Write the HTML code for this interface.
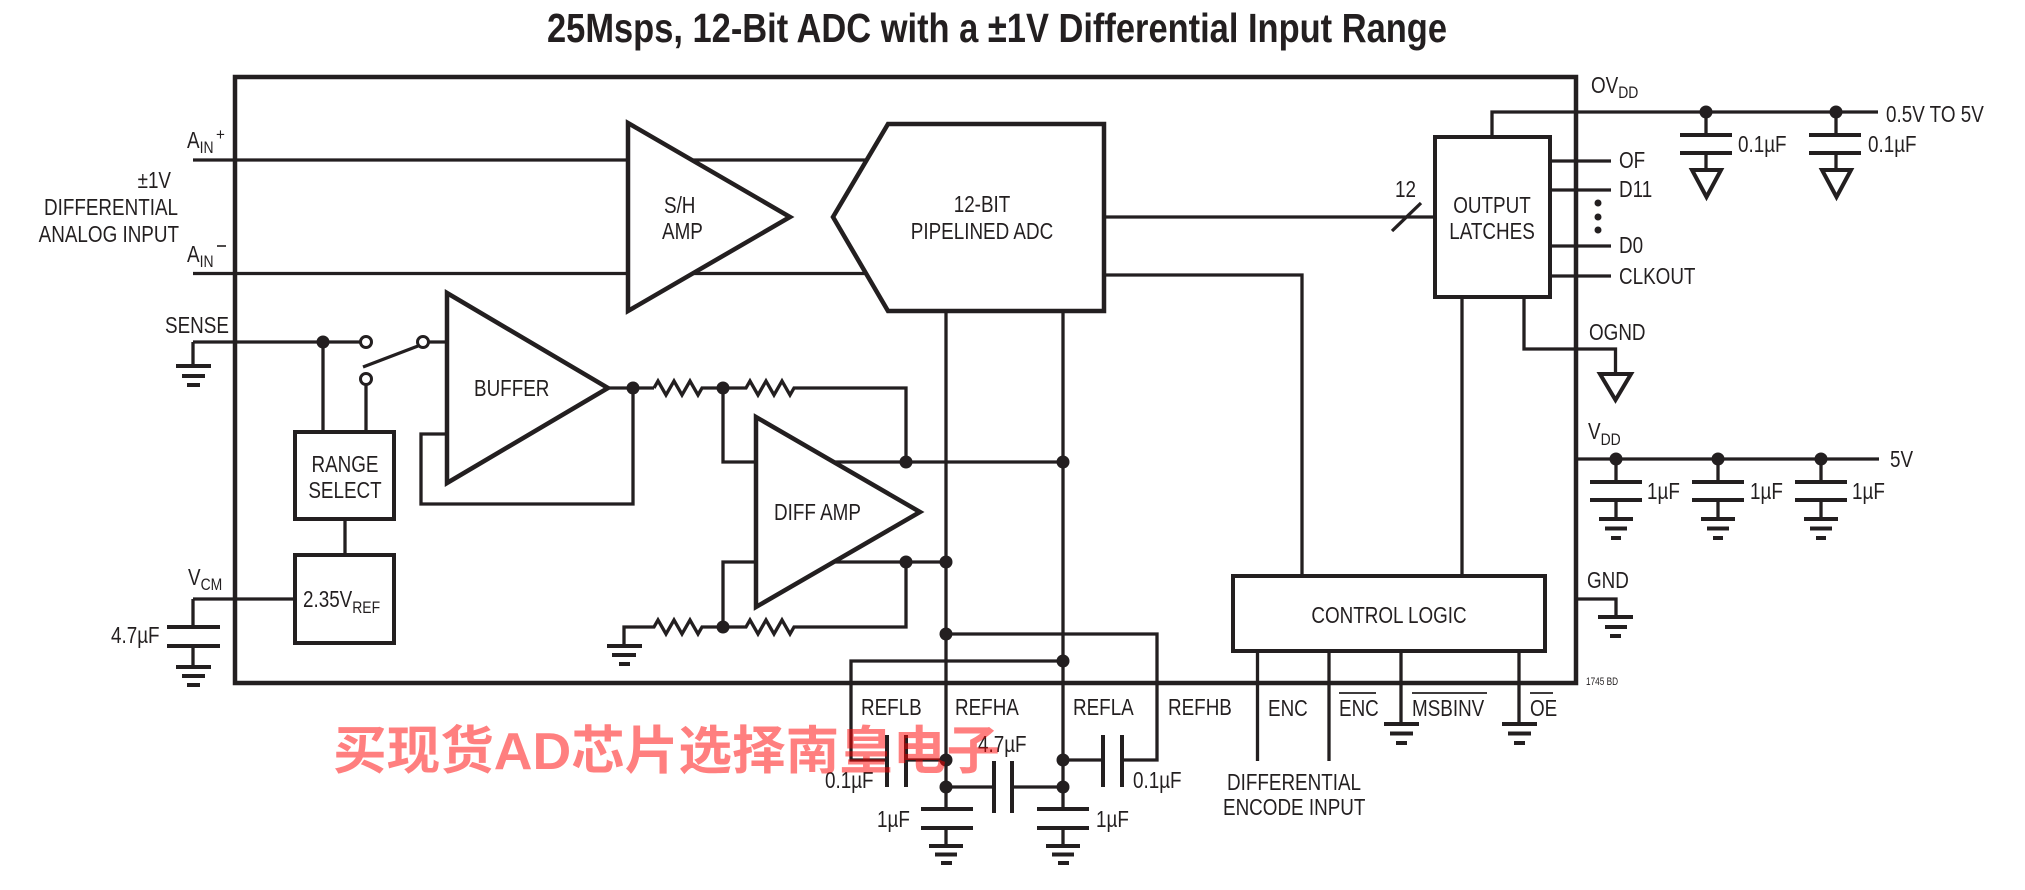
<!DOCTYPE html>
<html><head><meta charset="utf-8"><style>
html,body{margin:0;padding:0;background:#fff;}
svg{display:block;}
.l{fill:none;stroke:#231f20;stroke-width:3.3;stroke-linejoin:miter;}
.b{fill:#fff;stroke:#231f20;stroke-width:4;}
.k{fill:#fff;stroke:#231f20;stroke-width:4.5;stroke-linejoin:miter;}
.p{stroke:#231f20;stroke-width:4;fill:none;}
.d{fill:#231f20;}
.o{fill:#fff;stroke:#231f20;stroke-width:3;}
.t{font-family:"Liberation Sans",Arial,sans-serif;font-size:23px;fill:#231f20;}
.s{font-size:17px;}
</style></head><body>
<svg width="2025" height="890" viewBox="0 0 2025 890" xmlns="http://www.w3.org/2000/svg">
<!-- Title -->
<text x="547" y="42" textLength="900" lengthAdjust="spacingAndGlyphs" style="font-family:'Liberation Sans',Arial,sans-serif;font-weight:bold;font-size:41px;fill:#231f20">25Msps, 12-Bit ADC with a ±1V Differential Input Range</text>

<!-- main frame -->
<rect x="235" y="77" width="1341" height="606" fill="none" stroke="#231f20" stroke-width="4.5"/>

<!-- analog inputs -->
<line class="l" x1="193" y1="160" x2="868" y2="160"/>
<line class="l" x1="193" y1="273.5" x2="868" y2="273.5"/>
<polygon class="k" points="628,123 628,311 790,217"/>
<polygon class="k" points="888,124 1104,124 1104,311 888,311 833,217"/>

<!-- ADC outputs -->
<line class="l" x1="1104" y1="217" x2="1435" y2="217"/>
<line class="l" x1="1392" y1="231" x2="1421" y2="203"/>
<polyline class="l" points="1104,275 1302,275 1302,576"/>

<!-- REF verticals -->
<line class="l" x1="946" y1="311" x2="946" y2="809"/>
<line class="l" x1="1063" y1="311" x2="1063" y2="809"/>

<!-- SENSE / switch -->
<polyline class="l" points="193,342 360,342"/>
<polyline class="l" points="193,342 193,366"/>
<line class="p" x1="176" y1="366" x2="211" y2="366"/>
<line class="p" x1="182" y1="376" x2="205" y2="376"/>
<line class="p" x1="187" y1="385" x2="200" y2="385"/>
<line class="l" x1="323" y1="342" x2="323" y2="433"/>
<line class="l" x1="366" y1="385" x2="366" y2="433"/>
<line class="l" x1="363" y1="367" x2="418" y2="346"/>
<line class="l" x1="429" y1="342" x2="448" y2="342"/>
<circle class="d" cx="323" cy="342" r="6.5"/>
<circle class="o" cx="366" cy="342" r="5.5"/>
<circle class="o" cx="423" cy="342" r="5.5"/>
<circle class="o" cx="366" cy="379" r="5.5"/>

<!-- Range select & VREF -->
<rect class="b" x="295" y="432" width="99" height="87"/>
<line class="l" x1="345" y1="519" x2="345" y2="555"/>
<rect class="b" x="295" y="555" width="99" height="88"/>
<polyline class="l" points="193,599 295,599"/>
<polyline class="l" points="193,599 193,627"/>
<line class="p" x1="167" y1="627" x2="220" y2="627"/>
<line class="p" x1="167" y1="646" x2="220" y2="646"/>
<line class="l" x1="193" y1="646" x2="193" y2="667"/>
<line class="p" x1="176" y1="667" x2="211" y2="667"/>
<line class="p" x1="182" y1="676" x2="205" y2="676"/>
<line class="p" x1="187" y1="685" x2="200" y2="685"/>

<!-- Buffer -->
<polyline class="l" points="447,434 421,434 421,504 633,504 633,388"/>
<polygon class="k" points="447,293 447,483 608,388"/>
<line class="l" x1="608" y1="388" x2="654" y2="388"/>
<circle class="d" cx="633" cy="388" r="6.5"/>

<!-- resistor network top -->
<polyline class="l" points="654,388 658,381 666,395 674,381 682,395 690,381 698,395 702,388 746,388 750,381 758,395 766,381 774,395 782,381 790,395 794,388 906,388 906,462"/>
<polyline class="l" points="723,388 723,462 1063,462"/>
<circle class="d" cx="723" cy="388" r="6.5"/>
<!-- lower -->
<polyline class="l" points="723,627 723,562 946,562"/>
<polyline class="l" points="624,646 624,627 654,627 658,620 666,634 674,620 682,634 690,620 698,634 702,627 746,627 750,620 758,634 766,620 774,634 782,620 790,634 794,627 906,627 906,562"/>
<line class="p" x1="607" y1="646" x2="642" y2="646"/>
<line class="p" x1="612" y1="655" x2="636" y2="655"/>
<line class="p" x1="619" y1="664" x2="630" y2="664"/>
<circle class="d" cx="723" cy="627" r="6.5"/>

<!-- Diff amp -->
<polygon class="k" points="756,417 756,607 920,512"/>
<circle class="d" cx="906" cy="462" r="6.5"/>
<circle class="d" cx="1063" cy="462" r="6.5"/>
<circle class="d" cx="906" cy="562" r="6.5"/>
<circle class="d" cx="946" cy="562" r="6.5"/>

<!-- REF routing -->
<polyline class="l" points="946,634 1157,634 1157,760 1122,760"/>
<polyline class="l" points="1063,661 851,661 851,760 887,760"/>
<circle class="d" cx="946" cy="634" r="6.5"/>
<circle class="d" cx="1063" cy="661" r="6.5"/>
<line class="l" x1="906" y1="760" x2="946" y2="760"/>
<line class="l" x1="1063" y1="760" x2="1103" y2="760"/>
<line class="l" x1="946" y1="787" x2="994" y2="787"/>
<line class="l" x1="1012" y1="787" x2="1063" y2="787"/>
<line class="p" x1="887" y1="735" x2="887" y2="787"/>
<line class="p" x1="906" y1="735" x2="906" y2="787"/>
<line class="p" x1="994" y1="761" x2="994" y2="813"/>
<line class="p" x1="1012" y1="761" x2="1012" y2="813"/>
<line class="p" x1="1103" y1="735" x2="1103" y2="787"/>
<line class="p" x1="1122" y1="735" x2="1122" y2="787"/>
<circle class="d" cx="946" cy="760" r="6.5"/>
<circle class="d" cx="946" cy="787" r="6.5"/>
<circle class="d" cx="1063" cy="760" r="6.5"/>
<circle class="d" cx="1063" cy="787" r="6.5"/>
<!-- 1uF caps -->
<line class="p" x1="921" y1="809" x2="973" y2="809"/>
<line class="p" x1="921" y1="828" x2="973" y2="828"/>
<line class="l" x1="946" y1="828" x2="946" y2="846"/>
<line class="p" x1="929" y1="846" x2="963" y2="846"/>
<line class="p" x1="935" y1="854.5" x2="957" y2="854.5"/>
<line class="p" x1="941" y1="863" x2="952" y2="863"/>
<line class="p" x1="1037" y1="809" x2="1089" y2="809"/>
<line class="p" x1="1037" y1="828" x2="1089" y2="828"/>
<line class="l" x1="1063" y1="828" x2="1063" y2="846"/>
<line class="p" x1="1046" y1="846" x2="1080" y2="846"/>
<line class="p" x1="1052" y1="854.5" x2="1074" y2="854.5"/>
<line class="p" x1="1058" y1="863" x2="1069" y2="863"/>

<!-- Output latches -->
<polyline class="l" points="1492,137 1492,112 1878,112"/>
<rect class="b" x="1435" y="137" width="115" height="160"/>
<line class="l" x1="1550" y1="161" x2="1611" y2="161"/>
<line class="l" x1="1550" y1="190" x2="1611" y2="190"/>
<line class="l" x1="1550" y1="246" x2="1611" y2="246"/>
<line class="l" x1="1550" y1="276" x2="1611" y2="276"/>
<circle class="d" cx="1598" cy="203" r="3.5"/>
<circle class="d" cx="1598" cy="217" r="3.5"/>
<circle class="d" cx="1598" cy="230" r="3.5"/>
<line class="l" x1="1462" y1="297" x2="1462" y2="576"/>
<polyline class="l" points="1524,297 1524,349 1615.5,349 1615.5,374"/>
<polygon points="1600,374 1631,374 1615.5,400" fill="none" stroke="#231f20" stroke-width="4"/>
<!-- OVDD caps -->
<circle class="d" cx="1706" cy="112" r="6.5"/>
<circle class="d" cx="1836" cy="112" r="6.5"/>
<line class="l" x1="1706" y1="112" x2="1706" y2="135"/>
<line class="p" x1="1680" y1="135" x2="1732" y2="135"/>
<line class="p" x1="1680" y1="153" x2="1732" y2="153"/>
<line class="l" x1="1706" y1="153" x2="1706" y2="170"/>
<polygon points="1692,170 1721,170 1706.5,197" fill="none" stroke="#231f20" stroke-width="4"/>
<line class="l" x1="1836" y1="112" x2="1836" y2="135"/>
<line class="p" x1="1809" y1="135" x2="1861" y2="135"/>
<line class="p" x1="1809" y1="153" x2="1861" y2="153"/>
<line class="l" x1="1836" y1="153" x2="1836" y2="170"/>
<polygon points="1822,170 1851,170 1836.5,197" fill="none" stroke="#231f20" stroke-width="4"/>

<!-- VDD -->
<line class="l" x1="1576" y1="459" x2="1879" y2="459"/>
<g>
<line class="l" x1="1616" y1="459" x2="1616" y2="482"/>
<line class="p" x1="1590" y1="482" x2="1642" y2="482"/>
<line class="p" x1="1590" y1="500" x2="1642" y2="500"/>
<line class="l" x1="1616" y1="500" x2="1616" y2="519"/>
<line class="p" x1="1599" y1="519" x2="1633" y2="519"/>
<line class="p" x1="1605" y1="528.5" x2="1627" y2="528.5"/>
<line class="p" x1="1611" y1="538" x2="1621" y2="538"/>
<circle class="d" cx="1616" cy="459" r="6.5"/>
</g>
<g>
<line class="l" x1="1718" y1="459" x2="1718" y2="482"/>
<line class="p" x1="1692" y1="482" x2="1744" y2="482"/>
<line class="p" x1="1692" y1="500" x2="1744" y2="500"/>
<line class="l" x1="1718" y1="500" x2="1718" y2="519"/>
<line class="p" x1="1701" y1="519" x2="1735" y2="519"/>
<line class="p" x1="1707" y1="528.5" x2="1729" y2="528.5"/>
<line class="p" x1="1713" y1="538" x2="1723" y2="538"/>
<circle class="d" cx="1718" cy="459" r="6.5"/>
</g>
<g>
<line class="l" x1="1821" y1="459" x2="1821" y2="482"/>
<line class="p" x1="1795" y1="482" x2="1847" y2="482"/>
<line class="p" x1="1795" y1="500" x2="1847" y2="500"/>
<line class="l" x1="1821" y1="500" x2="1821" y2="519"/>
<line class="p" x1="1804" y1="519" x2="1838" y2="519"/>
<line class="p" x1="1810" y1="528.5" x2="1832" y2="528.5"/>
<line class="p" x1="1816" y1="538" x2="1826" y2="538"/>
<circle class="d" cx="1821" cy="459" r="6.5"/>
</g>
<!-- GND -->
<polyline class="l" points="1576,599 1616,599 1616,617"/>
<line class="p" x1="1598" y1="617" x2="1633" y2="617"/>
<line class="p" x1="1605" y1="627" x2="1627" y2="627"/>
<line class="p" x1="1610" y1="636" x2="1621" y2="636"/>

<!-- Control logic -->
<rect class="b" x="1233" y="576" width="312" height="75"/>
<line class="l" x1="1257.5" y1="651" x2="1257.5" y2="761"/>
<line class="l" x1="1329" y1="651" x2="1329" y2="761"/>
<line class="l" x1="1401" y1="651" x2="1401" y2="724"/>
<line class="p" x1="1384" y1="724" x2="1419" y2="724"/>
<line class="p" x1="1390" y1="733.5" x2="1413" y2="733.5"/>
<line class="p" x1="1396" y1="743" x2="1407" y2="743"/>
<line class="l" x1="1519" y1="651" x2="1519" y2="724"/>
<line class="p" x1="1502" y1="724" x2="1537" y2="724"/>
<line class="p" x1="1508" y1="733.5" x2="1531" y2="733.5"/>
<line class="p" x1="1514" y1="743" x2="1525" y2="743"/>
<line x1="1339" y1="693" x2="1376" y2="693" stroke="#231f20" stroke-width="1.8"/>
<line x1="1412" y1="693" x2="1487" y2="693" stroke="#231f20" stroke-width="1.8"/>
<line x1="1530" y1="693" x2="1553" y2="693" stroke="#231f20" stroke-width="1.8"/>

<!-- Labels -->
<g class="t">
<text transform="translate(187 148) scale(.82 1)">A<tspan class="s" dy="5">IN</tspan></text>
<text transform="translate(216 140) scale(.9 1)" style="font-size:17px">+</text>
<text transform="translate(187 262) scale(.82 1)">A<tspan class="s" dy="5">IN</tspan></text>
<line x1="217" y1="246" x2="226" y2="246" stroke="#231f20" stroke-width="1.6"/>
<text transform="translate(171 188) scale(.82 1)" text-anchor="end">±1V</text>
<text transform="translate(178 215) scale(.82 1)" text-anchor="end">DIFFERENTIAL</text>
<text transform="translate(179 242) scale(.82 1)" text-anchor="end">ANALOG INPUT</text>
<text transform="translate(165 333) scale(.82 1)">SENSE</text>
<text transform="translate(188 585) scale(.82 1)">V<tspan class="s" dy="5">CM</tspan></text>
<text transform="translate(111 643) scale(.82 1)">4.7µF</text>
<text transform="translate(664 213) scale(.82 1)">S/H</text>
<text transform="translate(662 239) scale(.82 1)">AMP</text>
<text transform="translate(982 212) scale(.82 1)" text-anchor="middle">12-BIT</text>
<text transform="translate(982 239) scale(.82 1)" text-anchor="middle">PIPELINED ADC</text>
<text transform="translate(474 396) scale(.82 1)">BUFFER</text>
<text transform="translate(345 472) scale(.82 1)" text-anchor="middle">RANGE</text>
<text transform="translate(345 498) scale(.82 1)" text-anchor="middle">SELECT</text>
<text transform="translate(303 607) scale(.82 1)">2.35V<tspan class="s" dy="6">REF</tspan></text>
<text transform="translate(774 520) scale(.82 1)">DIFF AMP</text>
<text transform="translate(1395 197) scale(.82 1)">12</text>
<text transform="translate(1492 213) scale(.82 1)" text-anchor="middle">OUTPUT</text>
<text transform="translate(1492 239) scale(.82 1)" text-anchor="middle">LATCHES</text>
<text transform="translate(1591 93) scale(.82 1)">OV<tspan class="s" dy="5">DD</tspan></text>
<text transform="translate(1886 122) scale(.82 1)">0.5V TO 5V</text>
<text transform="translate(1738 152) scale(.82 1)">0.1µF</text>
<text transform="translate(1868 152) scale(.82 1)">0.1µF</text>
<text transform="translate(1619 168) scale(.82 1)">OF</text>
<text transform="translate(1619 197) scale(.82 1)">D11</text>
<text transform="translate(1619 253) scale(.82 1)">D0</text>
<text transform="translate(1619 284) scale(.82 1)">CLKOUT</text>
<text transform="translate(1589 340) scale(.82 1)">OGND</text>
<text transform="translate(1588 439) scale(.82 1)">V<tspan class="s" dy="6">DD</tspan></text>
<text transform="translate(1890 467) scale(.82 1)">5V</text>
<text transform="translate(1647 499) scale(.82 1)">1µF</text>
<text transform="translate(1750 499) scale(.82 1)">1µF</text>
<text transform="translate(1852 499) scale(.82 1)">1µF</text>
<text transform="translate(1587 588) scale(.82 1)">GND</text>
<text transform="translate(1389 623) scale(.82 1)" text-anchor="middle">CONTROL LOGIC</text>
<text transform="translate(1586 685) scale(.75 1)" style="font-size:11px">1745 BD</text>
<text transform="translate(861 715) scale(.82 1)">REFLB</text>
<text transform="translate(955 715) scale(.82 1)">REFHA</text>
<text transform="translate(1073 715) scale(.82 1)">REFLA</text>
<text transform="translate(1168 715) scale(.82 1)">REFHB</text>
<text transform="translate(1268 716) scale(.82 1)">ENC</text>
<text transform="translate(1339 716) scale(.82 1)">ENC</text>
<text transform="translate(1412 716) scale(.82 1)">MSBINV</text>
<text transform="translate(1530 716) scale(.82 1)">OE</text>
<text transform="translate(825 788) scale(.82 1)">0.1µF</text>
<text transform="translate(978 752) scale(.82 1)">4.7µF</text>
<text transform="translate(1133 788) scale(.82 1)">0.1µF</text>
<text transform="translate(877 827) scale(.82 1)">1µF</text>
<text transform="translate(1096 827) scale(.82 1)">1µF</text>
<text transform="translate(1227 790) scale(.82 1)">DIFFERENTIAL</text>
<text transform="translate(1223 815) scale(.82 1)">ENCODE INPUT</text>
</g>

<!-- watermark -->
<text x="333" y="769" textLength="667" lengthAdjust="spacingAndGlyphs" style="font-family:'Liberation Sans','Noto Sans CJK SC','WenQuanYi Zen Hei',sans-serif;font-weight:bold;font-size:52px;fill:#ff0000;fill-opacity:0.5">买现货AD芯片选择南皇电子</text>
</svg>
</body></html>
